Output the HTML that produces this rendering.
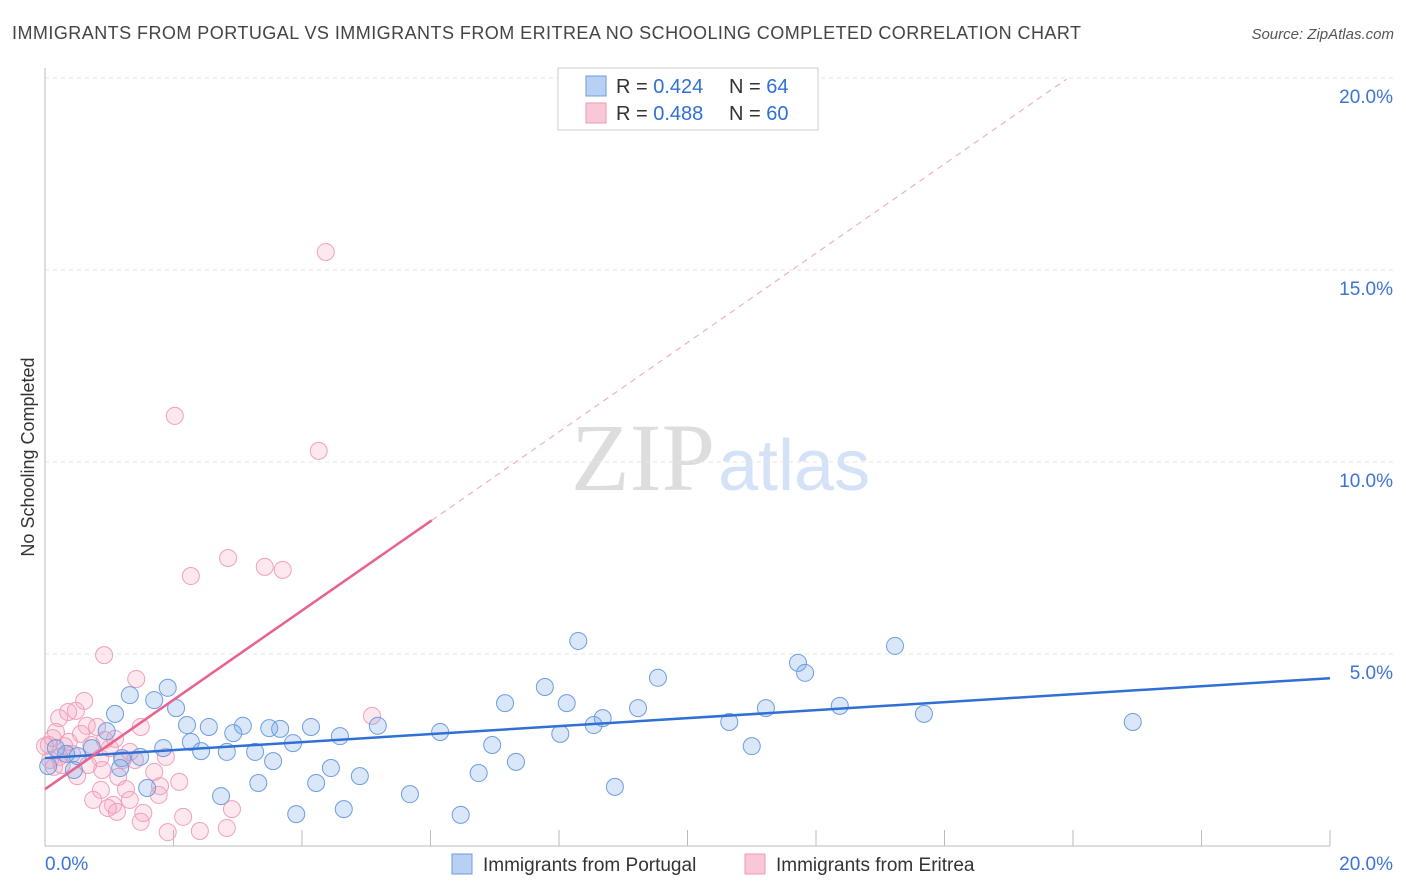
<!DOCTYPE html>
<html><head><meta charset="utf-8"><style>
body{margin:0;background:#fff;font-family:"Liberation Sans",sans-serif}
#c{position:absolute;left:0;top:0}
</style></head><body>
<svg id="c" width="1406" height="892">
<text x="12" y="39" font-size="18" fill="#444" textLength="1069" lengthAdjust="spacing">IMMIGRANTS FROM PORTUGAL VS IMMIGRANTS FROM ERITREA NO SCHOOLING COMPLETED CORRELATION CHART</text>
<text x="1394" y="39" font-size="15" fill="#555" text-anchor="end" font-style="italic">Source: ZipAtlas.com</text>
<text x="34" y="457" font-size="18" fill="#333" text-anchor="middle" transform="rotate(-90 34 457)">No Schooling Completed</text>
<text x="715" y="490" font-size="96" fill="#ddd" text-anchor="end" font-family="Liberation Serif">ZIP</text>
<text x="718" y="490" font-size="72" fill="#d3e2f6">atlas</text>
<g id="grid"></g>
<g id="marks"></g>
<g id="lines"></g>
<g>
<rect x="558" y="68" width="260" height="62" fill="#fff" stroke="#ccc"/>
<rect x="586" y="76" width="20" height="20" fill="#b7d0f3" stroke="#6d9be0"/>
<rect x="586" y="103" width="20" height="20" fill="#f9c8d7" stroke="#ee9ab5"/>
<text x="616" y="93" font-size="20" fill="#333">R = <tspan fill="#2f6fd6">0.424</tspan></text>
<text x="729" y="93" font-size="20" fill="#333">N = <tspan fill="#2f6fd6">64</tspan></text>
<text x="616" y="120" font-size="20" fill="#333">R = <tspan fill="#2f6fd6">0.488</tspan></text>
<text x="729" y="120" font-size="20" fill="#333">N = <tspan fill="#2f6fd6">60</tspan></text>
</g>
<rect x="452" y="854" width="20" height="20" fill="#b7d0f3" stroke="#6d9be0"/>
<text x="483" y="871" font-size="19" fill="#333">Immigrants from Portugal</text>
<rect x="745" y="854" width="20" height="20" fill="#f9c8d7" stroke="#ee9ab5"/>
<text x="776" y="871" font-size="19" fill="#333">Immigrants from Eritrea</text>
</svg>
<script>
const yTicks=[5,10,15,20];
const yTickLabels=["5.0%","10.0%","15.0%","20.0%"];
const xTicks=[0,2,4,6,8,10,12,14,16,18,20];
const blueX=[8.30,13.23,11.72,11.83,9.54,7.78,1.91,1.32,1.70,7.16,8.12,2.04,9.23,12.37,11.22,13.68,1.09,8.68,8.54,10.65,16.93,2.21,2.55,3.08,3.49,3.66,4.14,5.18,2.93,6.15,4.59,8.02,0.96,2.27,3.86,6.96,11.00,1.84,2.43,2.83,3.27,1.48,0.17,0.73,0.33,1.20,0.51,3.55,7.33,4.45,4.90,1.17,6.75,0.05,0.45,3.32,4.22,1.59,8.87,2.74,5.68,4.65,3.91,6.47];
const blueY=[5.34,5.21,4.77,4.51,4.38,4.14,4.12,3.93,3.80,3.72,3.72,3.59,3.59,3.65,3.59,3.44,3.44,3.33,3.15,3.23,3.23,3.15,3.10,3.13,3.07,3.05,3.10,3.13,2.94,2.97,2.86,2.92,2.99,2.71,2.68,2.63,2.60,2.55,2.47,2.45,2.45,2.32,2.55,2.55,2.40,2.29,2.34,2.21,2.19,2.03,1.82,2.03,1.90,2.08,1.98,1.64,1.64,1.51,1.54,1.30,1.35,0.96,0.83,0.81];
const pinkX=[4.37,2.02,4.26,2.85,2.27,3.42,3.70,0.92,1.42,0.61,0.48,0.22,0.36,5.09,0.65,0.81,1.49,0.17,0.56,0.12,0.93,1.09,0.72,0.30,0.06,1.32,1.88,0.42,0.22,0.86,1.21,0.26,0.89,0.14,1.70,0.50,1.14,2.09,1.79,1.26,0.87,0.75,1.32,1.06,0.98,1.53,1.12,1.77,2.91,2.15,1.49,2.83,1.91,2.41,0.0,0.08,0.37,1.01,1.40,0.67];
const pinkY=[15.47,11.20,10.29,7.50,7.03,7.27,7.19,4.97,4.35,3.78,3.52,3.33,3.49,3.39,3.13,3.10,3.10,2.97,2.92,2.81,2.76,2.79,2.63,2.60,2.63,2.45,2.32,2.40,2.32,2.29,2.24,2.11,1.98,2.06,1.93,1.82,1.80,1.67,1.56,1.48,1.46,1.20,1.20,1.07,0.99,0.86,0.89,1.33,0.96,0.76,0.63,0.47,0.36,0.39,2.60,2.24,2.71,2.55,2.24,2.11];
const blueTrend=[2.29,0.104];
const pinkTrend=[1.48,1.163];
const pinkSolidEnd=6.02, pinkDashEnd=15.9;
const NS="http://www.w3.org/2000/svg";
const X=v=>45+v*64.25, Y=v=>846-v*38.4;
function mk(p,t,a){const e=document.createElementNS(NS,t);for(const k in a)e.setAttribute(k,a[k]);p.appendChild(e);return e;}
const grid=document.getElementById('grid'),marks=document.getElementById('marks'),lines=document.getElementById('lines');
yTicks.forEach((t,i)=>{
 const g=mk(grid,'line',{x1:45,x2:1394,y1:Y(t),y2:Y(t),stroke:'#e6e6e6','stroke-dasharray':'4,4'});
 
 
 const l=mk(grid,'text',{x:1393,y:Y(t)+25,'font-size':19,fill:'#3b74d4','text-anchor':'end'});
 l.textContent=yTickLabels[i];
 
 
});
mk(grid,'line',{x1:45,x2:45,y1:68,y2:846,stroke:'#bbb'});
mk(grid,'line',{x1:45,x2:1330,y1:846,y2:846,stroke:'#bbb'});
xTicks.forEach(t=>{const k=mk(grid,'line',{x1:X(t),x2:X(t),y1:830,y2:846,stroke:'#bbb'});
 
 });
const xl0=mk(grid,'text',{x:45,y:870,'font-size':19,fill:'#3b74d4'});xl0.textContent='0.0%';


const xl1=mk(grid,'text',{x:1393,y:870,'font-size':19,fill:'#3b74d4','text-anchor':'end'});xl1.textContent='20.0%';


pinkX.forEach((v,i)=>{const c=mk(marks,'circle',{cx:X(v),cy:Y(pinkY[i]),r:8.5,fill:'rgba(246,165,190,0.25)',stroke:'#f0a0ba','stroke-width':1});
 
 });
blueX.forEach((v,i)=>{const c=mk(marks,'circle',{cx:X(v),cy:Y(blueY[i]),r:8.5,fill:'rgba(120,168,232,0.28)',stroke:'#6e9de0','stroke-width':1});
 
 });
const bl=mk(lines,'line',{x1:X(0),y1:Y(blueTrend[0]),x2:X(20),y2:Y(blueTrend[0]+blueTrend[1]*20),stroke:'#2f6fd6','stroke-width':2.5});


const pl=mk(lines,'line',{x1:X(0),y1:Y(pinkTrend[0]),x2:X(pinkSolidEnd),y2:Y(pinkTrend[0]+pinkTrend[1]*pinkSolidEnd),stroke:'#e8628f','stroke-width':2.5});


const pd=mk(lines,'line',{x1:X(pinkSolidEnd),y1:Y(pinkTrend[0]+pinkTrend[1]*pinkSolidEnd),x2:X(pinkDashEnd),y2:Y(pinkTrend[0]+pinkTrend[1]*pinkDashEnd),stroke:'#eeb0c4','stroke-width':1.2,'stroke-dasharray':'6,5'});


</script>
</body></html>
